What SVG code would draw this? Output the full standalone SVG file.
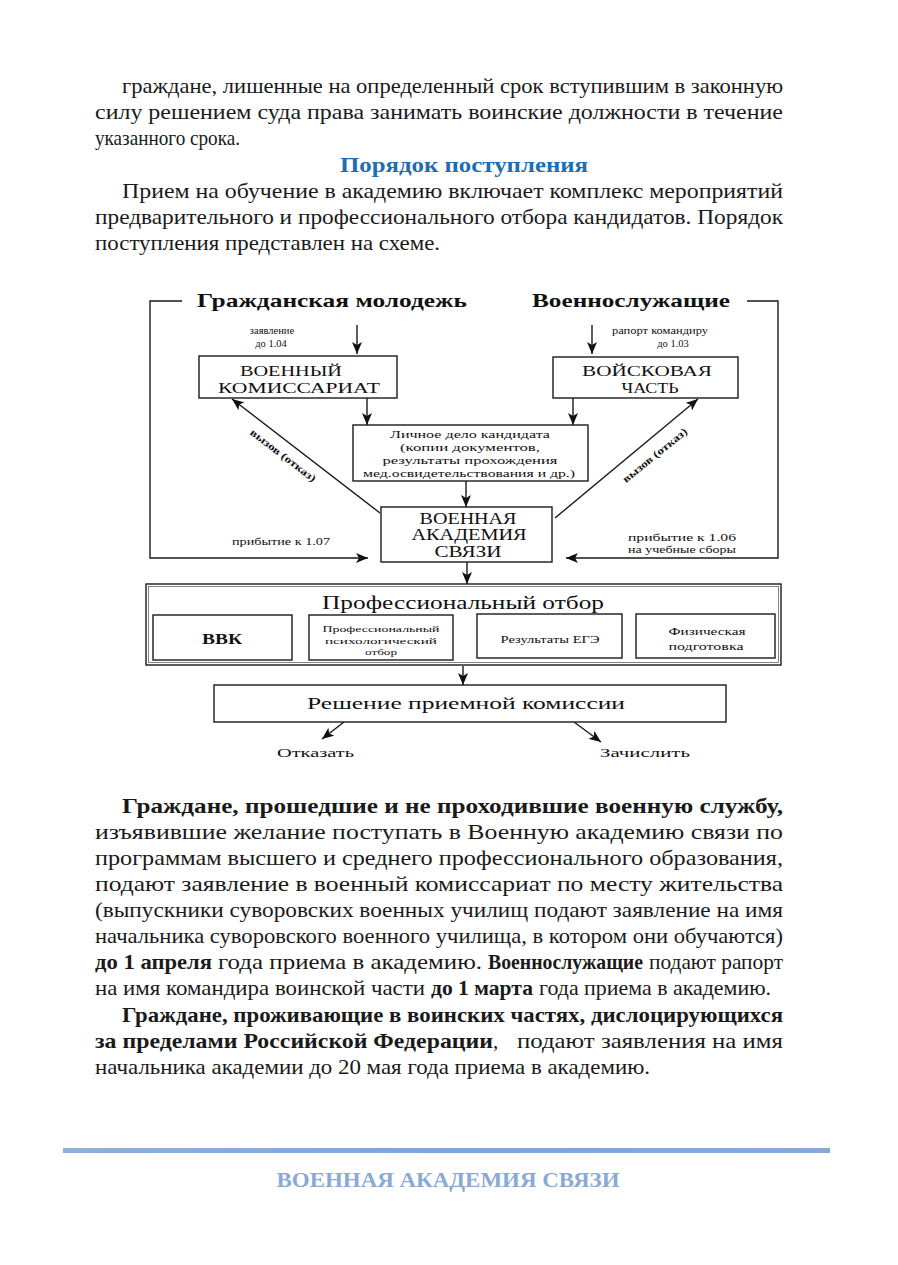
<svg xmlns="http://www.w3.org/2000/svg" width="898" height="1265" viewBox="0 0 898 1265">
<style>
.b{font-family:"Liberation Serif","Times New Roman",serif;font-size:21px;fill:#1a1a1a}
.bb{font-weight:bold}
.h{font-family:"Liberation Serif",serif;font-size:21px;font-weight:bold;fill:#1f6db4}
.d{font-family:"Liberation Serif",serif;fill:#111}
.box{fill:#fff;stroke:#1a1a1a;stroke-width:1.4}
.ln{fill:none;stroke:#1a1a1a;stroke-width:1.4}
.ft{font-family:"Liberation Serif",serif;font-size:20px;font-weight:bold;fill:#8aaad6}
</style>
<defs>
<marker id="ah" viewBox="0 0 12 10" refX="12" refY="5" markerWidth="12" markerHeight="10" markerUnits="userSpaceOnUse" orient="auto">
<path d="M0,0 L12,5 L0,10 L3,5 z" fill="#111"/>
</marker>
<linearGradient id="fg" x1="0" x2="1" y1="0" y2="0">
<stop offset="0" stop-color="#8fb0da"/><stop offset="0.5" stop-color="#7ea5d8"/><stop offset="1" stop-color="#86a9d8"/>
</linearGradient>
</defs>

<g id="page-text">
<text class="b" x="122" y="93" textLength="661" lengthAdjust="spacingAndGlyphs">граждане, лишенные на определенный срок вступившим в законную</text>
<text class="b" x="95" y="119" textLength="688" lengthAdjust="spacingAndGlyphs">силу решением суда права занимать воинские должности в течение</text>
<text class="b" x="95" y="145" textLength="145" lengthAdjust="spacingAndGlyphs">указанного срока.</text>
<text class="h" x="340" y="172" textLength="248" lengthAdjust="spacingAndGlyphs">Порядок поступления</text>
<text class="b" x="122" y="198" textLength="661" lengthAdjust="spacingAndGlyphs">Прием на обучение в академию включает комплекс мероприятий</text>
<text class="b" x="95" y="224" textLength="688" lengthAdjust="spacingAndGlyphs">предварительного и профессионального отбора кандидатов. Порядок</text>
<text class="b" x="95" y="250" textLength="345" lengthAdjust="spacingAndGlyphs">поступления представлен на схеме.</text>

<text class="b bb" x="122" y="813" textLength="661" lengthAdjust="spacingAndGlyphs">Граждане, прошедшие и не проходившие военную службу,</text>
<text class="b" x="95" y="839" textLength="688" lengthAdjust="spacingAndGlyphs">изъявившие желание поступать в Военную академию связи по</text>
<text class="b" x="95" y="865" textLength="688" lengthAdjust="spacingAndGlyphs">программам высшего и среднего профессионального образования,</text>
<text class="b" x="95" y="891" textLength="688" lengthAdjust="spacingAndGlyphs">подают заявление в военный комиссариат по месту жительства</text>
<text class="b" x="95" y="917" textLength="688" lengthAdjust="spacingAndGlyphs">(выпускники суворовских военных училищ подают заявление на имя</text>
<text class="b" x="95" y="943" textLength="688" lengthAdjust="spacingAndGlyphs">начальника суворовского военного училища, в котором они обучаются)</text>
<text class="b bb" x="95" y="969" textLength="117" lengthAdjust="spacingAndGlyphs">до 1 апреля</text>
<text class="b" x="218" y="969" textLength="264" lengthAdjust="spacingAndGlyphs">года приема в академию.</text>
<text class="b bb" x="488" y="969" textLength="155" lengthAdjust="spacingAndGlyphs">Военнослужащие</text>
<text class="b" x="649" y="969" textLength="134" lengthAdjust="spacingAndGlyphs">подают рапорт</text>
<text class="b" x="95" y="995" textLength="330" lengthAdjust="spacingAndGlyphs">на имя командира воинской части</text>
<text class="b bb" x="431" y="995" textLength="102" lengthAdjust="spacingAndGlyphs">до 1 марта</text>
<text class="b" x="539" y="995" textLength="232" lengthAdjust="spacingAndGlyphs">года приема в академию.</text>
<text class="b bb" x="122" y="1022" textLength="661" lengthAdjust="spacingAndGlyphs">Граждане, проживающие в воинских частях, дислоцирующихся</text>
<text class="b" x="95" y="1048"><tspan class="bb" textLength="398" lengthAdjust="spacingAndGlyphs">за пределами Российской Федерации</tspan><tspan>,</tspan></text>
<text class="b" x="517" y="1048" textLength="266" lengthAdjust="spacingAndGlyphs">подают заявления на имя</text>
<text class="b" x="95" y="1074" textLength="555" lengthAdjust="spacingAndGlyphs">начальника академии до 20 мая года приема в академию.</text>
</g>

<g id="connectors">
<line class="ln" x1="357" y1="325" x2="357" y2="354" marker-end="url(#ah)"/>
<line class="ln" x1="592" y1="325" x2="592" y2="354" marker-end="url(#ah)"/>
<line class="ln" x1="367" y1="398" x2="367" y2="425" marker-end="url(#ah)"/>
<line class="ln" x1="573" y1="398" x2="573" y2="425" marker-end="url(#ah)"/>
<line class="ln" x1="466" y1="481" x2="466" y2="507" marker-end="url(#ah)"/>
<line class="ln" x1="380" y1="513" x2="232" y2="399" marker-end="url(#ah)"/>
<line class="ln" x1="555" y1="518" x2="698" y2="399" marker-end="url(#ah)"/>
<polyline class="ln" points="182,301 150,301 150,558 368,558" marker-end="url(#ah)"/>
<polyline class="ln" points="747,301 778,301 778,558 566,558" marker-end="url(#ah)"/>
<line class="ln" x1="467" y1="562" x2="467" y2="584" marker-end="url(#ah)"/>
<line class="ln" x1="463" y1="666" x2="463" y2="685" marker-end="url(#ah)"/>
<line class="ln" x1="344" y1="722" x2="322" y2="739" marker-end="url(#ah)"/>
<line class="ln" x1="574" y1="722" x2="601" y2="742" marker-end="url(#ah)"/>
</g>

<g id="labels">
<text class="d" x="197" y="307" font-size="19" font-weight="bold" textLength="270" lengthAdjust="spacingAndGlyphs">Гражданская молодежь</text>
<text class="d" x="532" y="307" font-size="19" font-weight="bold" textLength="198" lengthAdjust="spacingAndGlyphs">Военнослужащие</text>
<text class="d" x="272" y="334" font-size="10.5" text-anchor="middle">заявление</text>
<text class="d" x="271" y="347" font-size="10.5" text-anchor="middle">до 1.04</text>
<text class="d" x="660" y="334" font-size="10.5" text-anchor="middle" textLength="96" lengthAdjust="spacingAndGlyphs">рапорт командиру</text>
<text class="d" x="673" y="347" font-size="10.5" text-anchor="middle">до 1.03</text>
<text class="d" font-size="10.5" font-weight="bold" text-anchor="middle" transform="translate(281,458) rotate(37.5)" textLength="80" lengthAdjust="spacingAndGlyphs">вызов (отказ)</text>
<text class="d" font-size="10.5" font-weight="bold" text-anchor="middle" transform="translate(657,458) rotate(-39)" textLength="80" lengthAdjust="spacingAndGlyphs">вызов (отказ)</text>
<text class="d" x="281" y="545" font-size="11" text-anchor="middle" textLength="98" lengthAdjust="spacingAndGlyphs">прибытие к 1.07</text>
<text class="d" x="682" y="541" font-size="11" text-anchor="middle" textLength="108" lengthAdjust="spacingAndGlyphs">прибытие к 1.06</text>
<text class="d" x="682" y="553" font-size="11" text-anchor="middle" textLength="108" lengthAdjust="spacingAndGlyphs">на учебные сборы</text>
<text class="d" x="277" y="757" font-size="13" textLength="77" lengthAdjust="spacingAndGlyphs">Отказать</text>
<text class="d" x="600" y="757" font-size="13" textLength="90" lengthAdjust="spacingAndGlyphs">Зачислить</text>
</g>

<g id="voenkomat">
<rect class="box" x="199" y="356" width="198" height="42"/>
<text class="d" x="291" y="376" font-size="15.5" text-anchor="middle" textLength="102" lengthAdjust="spacingAndGlyphs">ВОЕННЫЙ</text>
<text class="d" x="299" y="393" font-size="15.5" text-anchor="middle" textLength="162" lengthAdjust="spacingAndGlyphs">КОМИССАРИАТ</text>
</g>

<g id="voinskaya-chast">
<rect class="box" x="553" y="357" width="185" height="41"/>
<text class="d" x="647" y="376" font-size="15.5" text-anchor="middle" textLength="130" lengthAdjust="spacingAndGlyphs">ВОЙСКОВАЯ</text>
<text class="d" x="650" y="393" font-size="15.5" text-anchor="middle" textLength="57" lengthAdjust="spacingAndGlyphs">ЧАСТЬ</text>
</g>

<g id="lichnoe-delo">
<rect class="box" x="353" y="425" width="235" height="56"/>
<text class="d" x="470" y="438" font-size="10.5" text-anchor="middle" textLength="160" lengthAdjust="spacingAndGlyphs">Личное дело кандидата</text>
<text class="d" x="470" y="451" font-size="10.5" text-anchor="middle" textLength="140" lengthAdjust="spacingAndGlyphs">(копии документов,</text>
<text class="d" x="470" y="464" font-size="10.5" text-anchor="middle" textLength="175" lengthAdjust="spacingAndGlyphs">результаты прохождения</text>
<text class="d" x="469" y="477" font-size="10.5" text-anchor="middle" textLength="212" lengthAdjust="spacingAndGlyphs">мед.освидетельствования и др.)</text>
</g>

<g id="akademiya">
<rect class="box" x="381" y="507" width="171" height="55"/>
<text class="d" x="468" y="524" font-size="16" text-anchor="middle" textLength="97" lengthAdjust="spacingAndGlyphs">ВОЕННАЯ</text>
<text class="d" x="469" y="540" font-size="16" text-anchor="middle" textLength="115" lengthAdjust="spacingAndGlyphs">АКАДЕМИЯ</text>
<text class="d" x="468" y="557" font-size="16" text-anchor="middle" textLength="67" lengthAdjust="spacingAndGlyphs">СВЯЗИ</text>
</g>

<g id="prof-otbor">
<rect class="box" x="146" y="584" width="635" height="81"/>
<rect x="148.5" y="586.5" width="630" height="76" fill="none" stroke="#666" stroke-width="0.8"/>
<text class="d" x="463" y="609" font-size="18" text-anchor="middle" textLength="282" lengthAdjust="spacingAndGlyphs">Профессиональный отбор</text>
</g>

<g id="vvk">
<rect class="box" x="153" y="615" width="139" height="45"/>
<text class="d" x="222" y="644" font-size="14" font-weight="bold" text-anchor="middle" textLength="40" lengthAdjust="spacingAndGlyphs">ВВК</text>
</g>

<g id="psych">
<rect class="box" x="309" y="615" width="144" height="45"/>
<text class="d" x="381" y="632" font-size="9" text-anchor="middle" textLength="117" lengthAdjust="spacingAndGlyphs">Профессиональный</text>
<text class="d" x="381" y="644" font-size="9" text-anchor="middle" textLength="112" lengthAdjust="spacingAndGlyphs">психологический</text>
<text class="d" x="381" y="655" font-size="9" text-anchor="middle" textLength="32" lengthAdjust="spacingAndGlyphs">отбор</text>
</g>

<g id="ege">
<rect class="box" x="477" y="614" width="145" height="44"/>
<text class="d" x="550" y="643" font-size="10" text-anchor="middle" textLength="99" lengthAdjust="spacingAndGlyphs">Результаты ЕГЭ</text>
</g>

<g id="fiz">
<rect class="box" x="636" y="614" width="139" height="44"/>
<text class="d" x="707" y="635" font-size="10" text-anchor="middle" textLength="77" lengthAdjust="spacingAndGlyphs">Физическая</text>
<text class="d" x="706" y="650" font-size="10" text-anchor="middle" textLength="75" lengthAdjust="spacingAndGlyphs">подготовка</text>
</g>

<g id="reshenie">
<rect class="box" x="214" y="685" width="512" height="37"/>
<text class="d" x="466" y="709" font-size="17" text-anchor="middle" textLength="318" lengthAdjust="spacingAndGlyphs">Решение приемной комиссии</text>
</g>

<g id="footer">
<rect x="63" y="1148" width="767" height="5" fill="url(#fg)"/>
<text class="ft" x="448" y="1187" text-anchor="middle" textLength="343" lengthAdjust="spacingAndGlyphs">ВОЕННАЯ АКАДЕМИЯ СВЯЗИ</text>
</g>
</svg>
